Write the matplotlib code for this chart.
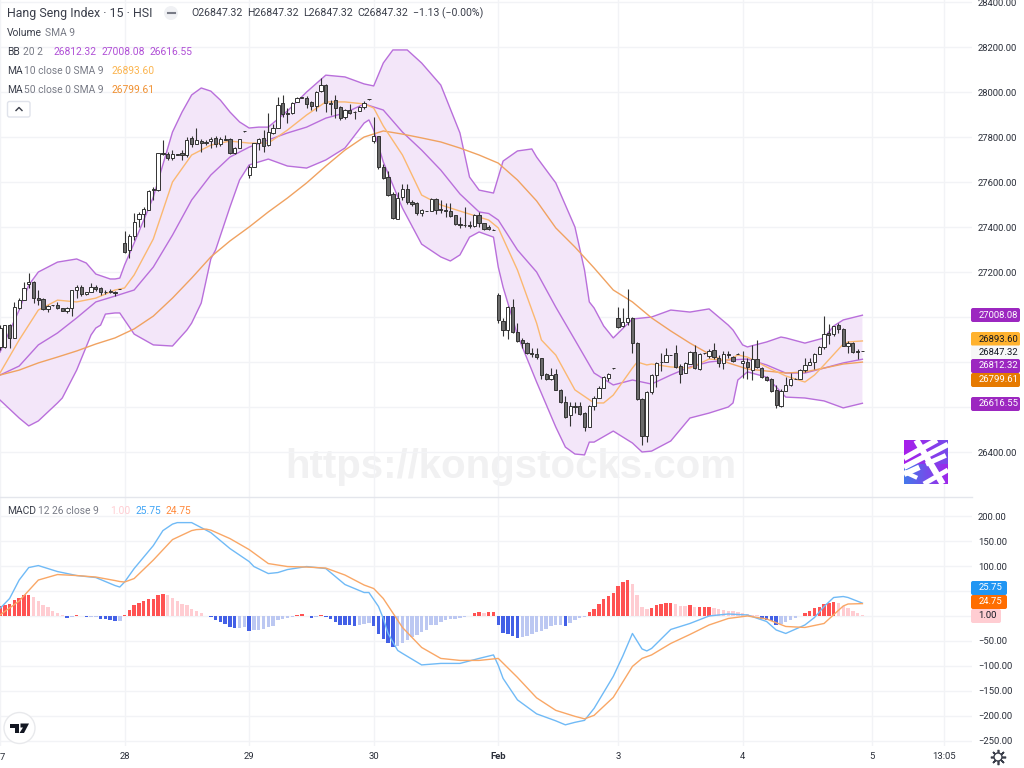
#!/usr/bin/env python3
"""Hang Seng Index 15 minute chart with Bollinger bands, moving averages and MACD."""

import matplotlib
matplotlib.use("Agg")
import matplotlib.pyplot as plt
import numpy as np
from matplotlib.lines import Line2D
from matplotlib.patches import Circle, FancyBboxPatch, Polygon
from matplotlib.transforms import Affine2D

# candles, one per 15 min bar; bar 0 is the first bar of the 28th
opens = [
    26867, 26867, 26964, 26907, 27040, 27075, 27145, 27156, 27085, 27080,
    27035, 27053, 27053, 27040, 27027, 27040, 27120, 27133, 27102, 27111,
    27133, 27129, 27111, 27113, 27111, 27124, 27329, 27298, 27360, 27435,
    27458, 27476, 27564, 27564, 27729, 27724, 27706, 27724, 27729, 27720,
    27795, 27769, 27782, 27775, 27782, 27795, 27769, 27791, 27791, 27729,
    27751, 27826, 27631, 27666, 27773, 27795, 27765, 27818, 27840, 27951,
    27907, 27905, 27955, 27975, 27973, 27955, 27938, 28004, 28031, 27945,
    27964, 27933, 27889, 27920, 27911, 27916, 27933, 27968, 27782, 27804,
    27666, 27622, 27547, 27435, 27533, 27569, 27511, 27507, 27462, 27471,
    27471, 27524, 27480, 27476, 27471, 27453, 27413, 27409, 27411, 27405,
    27453, 27418, 27400, 27387, 27098, 26982, 26942, 27044, 26933, 26898,
    26884, 26840, 26835, 26818, 26747, 26725, 26747, 26676, 26622, 26565,
    26604, 26604, 26573, 26511, 26604, 26640, 26684, 26729, 26773, 26995,
    26960, 26978, 26995, 26884, 26636, 26471, 26666, 26742, 26800, 26800,
    26831, 26840, 26782, 26751, 26790, 26844, 26769, 26838, 26826, 26853,
    26818, 26795, 26835, 26822, 26836, 26795, 26800, 26765, 26813, 26773,
    26733, 26725, 26676, 26604, 26671, 26698, 26725, 26725, 26765, 26787,
    26800, 26835, 26867, 26929, 26924, 26964, 26947, 26871, 26884, 26849,
    26847.32,
]
highs = [
    26964, 26964, 26970, 27067, 27085, 27156, 27195, 27160, 27120, 27085,
    27053, 27055, 27067, 27042, 27044, 27122, 27142, 27142, 27113, 27150,
    27142, 27133, 27120, 27124, 27115, 27125, 27383, 27370, 27462, 27467,
    27490, 27565, 27578, 27729, 27787, 27733, 27742, 27726, 27742, 27800,
    27805, 27840, 27790, 27785, 27800, 27805, 27800, 27810, 27795, 27755,
    27793, 27828, 27675, 27775, 27795, 27831, 27907, 27860, 27978, 27987,
    27929, 27955, 27978, 27980, 27982, 27960, 28005, 28062, 28035, 27964,
    27985, 27940, 27925, 27947, 27915, 27938, 27958, 27970, 27889, 27806,
    27680, 27650, 27555, 27555, 27591, 27591, 27520, 27510, 27480, 27473,
    27527, 27530, 27520, 27507, 27507, 27455, 27445, 27489, 27425, 27456,
    27465, 27420, 27408, 27389, 27105, 26995, 27050, 27080, 26975, 26905,
    26888, 26862, 26862, 26820, 26750, 26773, 26770, 26680, 26650, 26622,
    26622, 26622, 26580, 26608, 26650, 26695, 26740, 26752, 26775, 27044,
    27040, 27124, 27000, 26890, 26640, 26670, 26745, 26800, 26840, 26862,
    26833, 26875, 26790, 26800, 26850, 26875, 26840, 26842, 26860, 26885,
    26830, 26850, 26850, 26825, 26838, 26850, 26818, 26875, 26898, 26780,
    26740, 26730, 26698, 26680, 26735, 26750, 26727, 26770, 26820, 26820,
    26840, 26870, 27004, 26970, 26960, 26975, 26950, 26895, 26888, 26858,
    26847.32,
]
lows = [
    26853, 26862, 26862, 26907, 27035, 27075, 27129, 27062, 27053, 27030,
    27022, 27051, 27035, 27025, 27018, 27004, 27085, 27093, 27098, 27111,
    27115, 27098, 27102, 27106, 27093, 27123, 27285, 27262, 27342, 27400,
    27400, 27476, 27520, 27560, 27720, 27697, 27698, 27720, 27700, 27710,
    27755, 27769, 27733, 27765, 27750, 27755, 27760, 27787, 27725, 27725,
    27751, 27824, 27618, 27666, 27742, 27733, 27760, 27815, 27840, 27888,
    27862, 27902, 27955, 27973, 27931, 27920, 27916, 28000, 27911, 27898,
    27885, 27875, 27880, 27902, 27880, 27914, 27925, 27966, 27773, 27660,
    27615, 27538, 27435, 27435, 27520, 27504, 27495, 27453, 27449, 27469,
    27470, 27460, 27464, 27444, 27445, 27410, 27395, 27400, 27395, 27400,
    27400, 27385, 27385, 27385, 26975, 26915, 26902, 26930, 26890, 26862,
    26835, 26822, 26815, 26725, 26722, 26722, 26675, 26620, 26550, 26515,
    26573, 26565, 26495, 26510, 26585, 26640, 26684, 26715, 26771, 26951,
    26955, 26964, 26840, 26630, 26431, 26444, 26660, 26687, 26760, 26798,
    26829, 26775, 26707, 26750, 26790, 26770, 26765, 26836, 26820, 26815,
    26780, 26770, 26820, 26800, 26834, 26730, 26725, 26720, 26775, 26730,
    26715, 26665, 26595, 26600, 26670, 26695, 26723, 26725, 26755, 26787,
    26770, 26835, 26860, 26880, 26915, 26930, 26870, 26840, 26842, 26815,
    26847.32,
]
closes = [
    26951, 26964, 26907, 27044, 27075, 27129, 27155, 27085, 27075, 27035,
    27050, 27052, 27040, 27027, 27040, 27120, 27133, 27102, 27111, 27133,
    27124, 27111, 27109, 27115, 27105, 27124, 27289, 27360, 27422, 27458,
    27480, 27560, 27569, 27729, 27725, 27706, 27724, 27722, 27720, 27787,
    27769, 27787, 27773, 27778, 27791, 27769, 27791, 27787, 27729, 27751,
    27791, 27826, 27666, 27773, 27791, 27760, 27822, 27840, 27942, 27902,
    27902, 27951, 27973, 27978, 27947, 27938, 28000, 28031, 27951, 27950,
    27929, 27884, 27920, 27907, 27909, 27933, 27951, 27968, 27804, 27666,
    27618, 27542, 27440, 27529, 27569, 27511, 27502, 27462, 27476, 27471,
    27524, 27476, 27476, 27472, 27449, 27413, 27411, 27407, 27405, 27453,
    27418, 27391, 27391, 27387, 26987, 26942, 27044, 26933, 26893, 26884,
    26840, 26835, 26822, 26742, 26725, 26742, 26676, 26622, 26555, 26605,
    26602, 26569, 26511, 26604, 26640, 26684, 26733, 26747, 26773, 26955,
    26978, 26995, 26884, 26636, 26471, 26666, 26742, 26795, 26798, 26831,
    26831, 26778, 26747, 26795, 26844, 26773, 26835, 26840, 26849, 26822,
    26795, 26835, 26831, 26805, 26836, 26805, 26778, 26813, 26778, 26733,
    26720, 26670, 26609, 26671, 26698, 26725, 26725, 26765, 26787, 26800,
    26835, 26867, 26924, 26920, 26960, 26947, 26871, 26884, 26844, 26845,
    26847.32,
]

# overlays are read every 4th bar, plus extra readings at the bends
line_bars = list(range(-26, 155, 4))
bb_upper = [
    26844, 27031, 27200, 27244, 27258, 27191, 27169, 27329, 27533, 27822,
    27987, 28004, 27911, 27840, 27844, 27916, 28000, 28075, 28067, 28036,
    28129, 28187, 28129, 28031, 27818, 27564, 27622, 27738, 27711, 27596,
    27400, 27040, 26907, 26991, 27000, 27031, 27022, 27036, 26964, 26867,
    26889, 26907, 26884, 26907, 26987, 27008.08,
]
bb_upper_bend_bars = [-20, -8, -3, -1, 0, 12, 16, 20, 24, 28, 52, 56, 59, 72, 77,
                      79, 85, 96, 97, 100, 127, 129, 137, 148]
bb_upper_bend_vals = [27142, 27240, 27169, 27173, 27231, 27911, 28018, 27964,
                      27867, 27844, 28027, 28187, 28187, 27622, 27551, 27693,
                      27747, 27209, 27067, 26960, 26942, 26876, 26911, 26960]
bb_lower = [
    26631, 26551, 26538, 26618, 26764, 26951, 27018, 26924, 26876, 26871,
    26973, 27258, 27489, 27676, 27702, 27671, 27662, 27698, 27751, 27862,
    27689, 27484, 27324, 27267, 27276, 27378, 27222, 26920, 26711, 26511,
    26391, 26444, 26493, 26440, 26404, 26449, 26551, 26573, 26600, 26756,
    26733, 26644, 26640, 26627, 26596, 26616.55,
]
bb_lower_bend_bars = [-20, -16, -13, -7, -5, -4, -1, 13, 16, 19, 24, 51, 52, 68,
                      72, 77, 79, 92, 96, 97, 108, 127, 128, 136]
bb_lower_bend_vals = [26516, 26578, 26640, 26920, 26964, 27013, 27018, 26942,
                      27062, 27298, 27609, 27876, 27831, 27249, 27355, 27355,
                      27133, 26422, 26387, 26444, 26400, 26618, 26720, 26689]
bb_basis = [
    26742, 26782, 26876, 26929, 26996, 27067, 27093, 27120, 27222, 27364,
    27520, 27631, 27711, 27755, 27787, 27818, 27844, 27884, 27907, 27947,
    27920, 27822, 27742, 27653, 27547, 27467, 27431, 27298, 27200, 27044,
    26898, 26751, 26698, 26720, 26702, 26742, 26778, 26800, 26809, 26813,
    26787, 26751, 26751, 26773, 26796, 26812.32,
]
bb_basis_bend_bars = [76]
bb_basis_bend_vals = [27460]
ma10 = [
    26751, 26898, 27031, 27075, 27067, 27084, 27120, 27187, 27347, 27600,
    27720, 27764, 27782, 27773, 27773, 27831, 27898, 27956, 27956, 27947,
    27849, 27720, 27542, 27498, 27471, 27444, 27396, 27209, 26973, 26831,
    26676, 26618, 26653, 26773, 26791, 26778, 26773, 26813, 26809, 26822,
    26778, 26738, 26711, 26787, 26880, 26893.60,
]
ma10_bend_bars = [0, 52, 76, 87, 89, 100, 107, 109, 128, 144, 151]
ma10_bend_vals = [27129, 27929, 27431, 26898, 26853, 26618, 26800, 26787, 26831,
                  26742, 26889]
ma50 = [
    26742, 26764, 26796, 26822, 26849, 26880, 26907, 26947, 27004, 27084,
    27173, 27267, 27338, 27400, 27467, 27529, 27596, 27671, 27742, 27800,
    27827, 27813, 27796, 27778, 27751, 27720, 27684, 27609, 27516, 27396,
    27311, 27218, 27120, 27067, 26996, 26938, 26884, 26836, 26796, 26769,
    26760, 26751, 26756, 26773, 26791, 26799.61,
]
macd_line = [
    15, 72, 101, 89, 81, 77, 61, 95, 141, 184,
    187, 167, 135, 109, 85, 93, 99, 95, 63, 47,
    -5, -75, -98, -95, -95, -85, -99, -168, -196, -210,
    -213, -185, -121, -35, -65, -27, -15, 0, 4, 2,
    -11, -35, -18, 19, 39, 25.75,
]
macd_bend_bars = [-24, -20, -1, 0, 8, 11, 27, 32, 51, 53, 55, 57, 77, 79, 92, 96,
                  104, 108, 109, 136, 144, 148, 151]
macd_bend_vals = [35, 97, 58, 68, 171, 187, 99, 87, 47, 19, -35, -69, -78, -125,
                  -218, -209, -80, -66, -70, -28, -3, 37, 37]
signal_line = [
    2, 30, 72, 83, 81, 78, 71, 75, 112, 153,
    171, 172, 155, 133, 105, 99, 98, 96, 82, 62,
    35, -23, -63, -85, -89, -89, -85, -123, -164, -189,
    -201, -199, -163, -101, -78, -55, -37, -18, -5, 0,
    -6, -21, -23, -15, 20, 24.75,
]
signal_bend_bars = [-1, 0, 15, 17, 52, 96, 108, 151]
signal_bend_vals = [69, 68, 173, 174, 55, -206, -85, 24]
histogram = [
    20, 22, 24, 32, 37, 42, 43, 39, 31, 22, 17, 10, 5, 1,
    -5, -3, 2, -1, -3, -2, -2, -6, -7, -9, -11, -10,
    2, 12, 21, 27, 31, 35, 35, 43, 45, 42, 37, 31, 24, 21, 14, 10, 5,
    -1, -3, -9, -13, -16, -22, -25, -25, -23, -31, -29, -28, -27, -23, -20,
    -9, -6, -5, -3, 2, 4, -1, -5, -2, 2, -3, -7, -13, -19,
    -18, -19, -20, -18, -17, -15, -21, -37, -46, -55, -63,
    -60, -55, -49, -43, -38, -33, -29, -19, -18, -13, -8, -7, -6, -5, -3, -1,
    5, 7, 6, 7, 7,
    -19, -35, -36, -41, -45, -43, -41, -36, -32, -31, -26, -21, -19, -19, -21,
    -15, -8, -5, -3,
    7, 14, 24, 34, 41, 47, 61, 69, 73, 65, 43, 17, 13, 15, 21, 23, 26, 27, 24,
    19, 19, 21, 17, 18, 18, 18, 15, 13, 11, 9, 9, 8, 5, 3, 2, 1,
    -7, -9, -11, -19, -16, -13, -9, -5, -1,
    5, 9, 15, 17, 24, 26, 29, 27, 19, 15, 9, 5, 1,
]
# R/r rising/falling above zero, B/b falling/rising below zero
hist_state = ("R" * 7 + "r" * 7 + "BbRbBbbBBBBb" + "R" * 9 + "r" * 8 + "B" * 7
              + "bb" + "B" + "b" * 9 + "RR" + "r" + "B" + "b" + "R" + "B" * 7
              + "b" * 3 + "B" * 5 + "b" * 16 + "RRrRR" + "B" * 5 + "b" * 9
              + "B" + "b" * 4 + "R" * 9 + "r" * 4 + "R" * 5 + "rrr" + "R" + "r"
              + "RRR" + "r" * 10 + "B" * 4 + "b" * 5 + "R" * 7 + "r" * 6)

date_ticks = [-26, 0, 26, 52, 78, 103, 129, 156, 171]
date_labels = ["", "28", "29", "30", "Feb", "3", "4", "5", "13:05"]
price_ticks = list(range(26400, 28401, 200))
price_labels = ["26400.00", "", "", "", "27200.00", "27400.00", "27600.00",
                "27800.00", "28000.00", "28200.00", "28400.00"]
macd_ticks = list(range(-250, 201, 50))
macd_labels = ["\u2212250.00", "\u2212200.00", "\u2212150.00", "\u2212100.00",
               "\u221250.00", "", "", "100.00", "150.00", "200.00"]

plt.rcParams["font.family"] = ["Roboto", "DejaVu Sans"]

TEXT = "#131722"
DARK = "#3a3e4a"
MUTED = "#787b86"
GRID = "#f2f3f6"
PURPLE = "#b96fdb"
BADGE_PURPLE = "#9c27c0"
MA10_COLOR = "#fbb871"
MA50_COLOR = "#f0a261"
HIST_COLORS = {"R": "#ff5252", "r": "#ffcdd2", "B": "#4360e6", "b": "#bcc8f2"}
LEGEND_SIZE = 7.4
SCALE_SIZE = 6.8

W, H = 1024, 768
PLOT_RIGHT = 972
PANE_SPLIT = 497
PANE_BOTTOM = 746


def with_bends(values, bend_bars=(), bend_vals=()):
    """Merge the regular readings with the extra ones, sorted by bar."""
    x = np.array(line_bars + list(bend_bars), dtype=float)
    y = np.array(list(values) + list(bend_vals), dtype=float)
    order = np.argsort(x)
    return x[order], y[order]


fig = plt.figure(figsize=(W / 100, H / 100), dpi=100, facecolor="white")
# decorations are placed in image pixels, y going down
px = Affine2D().scale(1, -1).translate(0, H)

ax = fig.add_axes([0, (H - PANE_SPLIT) / H, PLOT_RIGHT / W, PANE_SPLIT / H])
ax2 = fig.add_axes([0, (H - PANE_BOTTOM) / H, PLOT_RIGHT / W,
                    (PANE_BOTTOM - PANE_SPLIT) / H])

bars = np.arange(-26, 155)
o = np.array(opens)
h = np.array(highs)
l = np.array(lows)
c = np.array(closes)

for a in (ax, ax2):
    a.set_xlim(-25.625, 176.875)
    a.set_xticks(date_ticks)
    a.grid(True, color=GRID, linewidth=1)
    a.set_axisbelow(True)
    a.yaxis.tick_right()
    a.tick_params(length=0, labelsize=SCALE_SIZE, labelcolor="#2a2e39", pad=4.4)
    for spine in a.spines.values():
        spine.set_visible(False)

ax.set_ylim(26200, 28409)
ax.set_yticks(price_ticks, price_labels)
ax.tick_params(axis="x", labelbottom=False)
ax2.set_ylim(-260.4, 238.3)
ax2.set_yticks(macd_ticks, macd_labels)
ax2.set_xticks(date_ticks, date_labels)
for tick in ax2.get_xticklabels():
    if tick.get_text() == "Feb":
        tick.set_fontweight("bold")

ax.text(511, 467, "https://kongstocks.com", transform=px, family="Liberation Sans",
        fontsize=29, fontweight="bold", color="#f1f1f2", ha="center",
        va="center", zorder=0.5)

ux, uy = with_bends(bb_upper, bb_upper_bend_bars, bb_upper_bend_vals)
lx, ly = with_bends(bb_lower, bb_lower_bend_bars, bb_lower_bend_vals)
ax.fill(np.r_[ux, lx[::-1]], np.r_[uy, ly[::-1]], color="#f3e6f9", linewidth=0, zorder=1)
ax.plot(ux, uy, color=PURPLE, linewidth=1, zorder=2)
ax.plot(lx, ly, color=PURPLE, linewidth=1, zorder=2)
ax.plot(*with_bends(bb_basis, bb_basis_bend_bars, bb_basis_bend_vals),
        color=PURPLE, linewidth=1, zorder=2)
ax.plot(*with_bends(ma50), color=MA50_COLOR, linewidth=1, zorder=2.1)
ax.plot(*with_bends(ma10, ma10_bend_bars, ma10_bend_vals), color=MA10_COLOR,
        linewidth=1, zorder=2.1)

ax.vlines(bars, l, h, color="#333333", linewidth=0.8, zorder=3)
ax.bar(bars, np.abs(c - o), bottom=np.minimum(o, c), width=0.68,
       color=np.where(c >= o, "white", "#6b6b6b"), edgecolor="#333333",
       linewidth=0.7, zorder=4)

ax2.bar(bars, histogram, width=0.72, linewidth=0,
        color=[HIST_COLORS[s] for s in hist_state], zorder=2)
ax2.plot(*with_bends(macd_line, macd_bend_bars, macd_bend_vals), color="#70baf6",
         linewidth=1, zorder=3)
ax2.plot(*with_bends(signal_line, signal_bend_bars, signal_bend_vals), color="#f9a766",
         linewidth=1, zorder=3)

fig.add_artist(Line2D([0, PLOT_RIGHT], [PANE_SPLIT, PANE_SPLIT], transform=px,
                      color="#e4e6ec", linewidth=1))


def label(x, y, text, color=TEXT, size=LEGEND_SIZE, **kw):
    fig.text(x, y, text, transform=px, color=color, fontsize=size, va="center",
             zorder=20, **kw)


def badge(y, text, bg, fg="white", right=1020):
    fig.add_artist(FancyBboxPatch((971, y - 7), right - 971, 14, transform=px,
                                  boxstyle="round,pad=0,rounding_size=2",
                                  facecolor=bg, edgecolor="none", zorder=15))
    label(978.5, y, text, color=fg, size=SCALE_SIZE)


# legend block
label(7, 13.5, "Hang Seng Index \u00b7 15 \u00b7 HSI", color=DARK, size=8.9)
fig.add_artist(Circle((171, 13), 7, transform=px, facecolor="#f0f1f4",
                      edgecolor="none", zorder=15))
fig.add_artist(Line2D([167.5, 174.5], [13, 13], transform=px, color=MUTED,
                      linewidth=1.5, zorder=16))
label(191, 13.5, "O26847.32", color=DARK, size=7.6)
label(247, 13.5, "H26847.32", color=DARK, size=7.6)
label(303, 13.5, "L26847.32", color=DARK, size=7.6)
label(357, 13.5, "C26847.32", color=DARK, size=7.6)
label(413, 13.5, "\u22121.13 (\u22120.00%)", color=DARK, size=7.6)

label(7, 32.5, "Volume", color=DARK)
label(45, 32.5, "SMA 9", color=MUTED)
label(7, 52, "BB", color=DARK)
label(23, 52, "20 2", color=MUTED)
label(54, 52, "26812.32", color="#b04fd6")
label(102, 52, "27008.08", color="#b04fd6")
label(150, 52, "26616.55", color="#b04fd6")
label(7, 71, "MA", color=DARK)
label(24.5, 71, "10 close 0 SMA 9", color=MUTED)
label(111, 71, "26893.60", color="#fbb44f")
label(7, 90, "MA", color=DARK)
label(24.5, 90, "50 close 0 SMA 9", color=MUTED)
label(111, 90, "26799.61", color="#f09030")
fig.add_artist(FancyBboxPatch((7.5, 101.5), 22.5, 15.5, transform=px,
                              boxstyle="round,pad=0,rounding_size=2",
                              facecolor="white", edgecolor="#e0e3eb",
                              linewidth=1, zorder=15))
fig.add_artist(Line2D([16, 19, 22], [110.5, 107.5, 110.5], transform=px,
                      color=DARK, linewidth=1, zorder=16))

label(7, 511, "MACD", color=DARK)
label(38, 511, "12 26 close 9", color=MUTED)
label(110, 511, "1.00", color="#ffcdd2")
label(135, 511, "25.75", color="#42a5f5")
label(166, 511, "24.75", color="#ff8a3d")

# tail of the 27 that the left edge cuts
label(0, 757, "7", color="#2a2e39", size=SCALE_SIZE)

# last value badges on the price scales
badge(315, "27008.08", BADGE_PURPLE)
badge(339, "26893.60", "#ffb22e", fg=TEXT)
badge(352.5, "26847.32", "#f7f7f7", fg=TEXT)
badge(366, "26812.32", BADGE_PURPLE)
badge(380, "26799.61", "#e67a00")
badge(404, "26616.55", BADGE_PURPLE)
badge(588, "25.75", "#2196f3", right=1007)
badge(602, "24.75", "#ff6d00", right=1007)
badge(616, "1.00", "#ffcdd2", fg=TEXT, right=1001)

# site logo, gradient square with white strokes
logo = fig.add_axes([904 / W, (H - 484) / H, 44 / W, 44 / H], zorder=10)
gx, gy = np.meshgrid(np.linspace(0, 1, 44), np.linspace(0, 1, 44))
blue = np.array([0.27, 0.47, 0.92])
violet = np.array([0.66, 0.12, 0.92])
shade = np.where(gy > 0.55, 0.9 * gx, 1 - 0.5 * gx)[..., None]
logo.imshow(blue + (violet - blue) * shade, extent=(0, 1, 1, 0), aspect="auto")
for (x0, y0, x1, y1, w) in [(0.0, 0.42, 0.75, 0.0, 4), (0.0, 0.62, 1.0, 0.1, 4),
                            (0.0, 0.78, 0.35, 0.62, 4), (0.28, 0.0, 0.88, 1.0, 4.5),
                            (0.45, 1.0, 1.0, 0.68, 3.5), (0.5, 0.55, 0.95, 0.35, 3.5),
                            (0.0, 0.72, 0.3, 0.86, 3)]:
    logo.plot([x0, x1], [y0, y1], color="white", linewidth=w, solid_capstyle="butt")
logo.set_xlim(0, 1)
logo.set_ylim(1, 0)
logo.axis("off")

# TradingView badge
fig.add_artist(Circle((19.5, 728), 15.5, transform=px, facecolor="white",
                      edgecolor="#e8e9ec", linewidth=1, zorder=15))
for pts in ([(10, 723.5), (19, 723.5), (19, 733), (14.5, 733), (14.5, 727.5), (10, 727.5)],
            [(20.5, 723.5), (29, 723.5), (24, 733), (19.5, 733), (23, 727.5), (20.5, 727.5)]):
    fig.add_artist(Polygon(pts, closed=True, transform=px, facecolor=TEXT,
                           edgecolor="none", zorder=16))

# settings gear next to the time scale
fig.add_artist(Line2D([998], [757], transform=px, marker=(8, 2, 0), markersize=11,
                      color=DARK, markeredgewidth=1.2, zorder=15))
fig.add_artist(Circle((998, 757), 4, transform=px, facecolor="white",
                      edgecolor=DARK, linewidth=1, zorder=16))

fig.savefig("out.png", dpi=100)
